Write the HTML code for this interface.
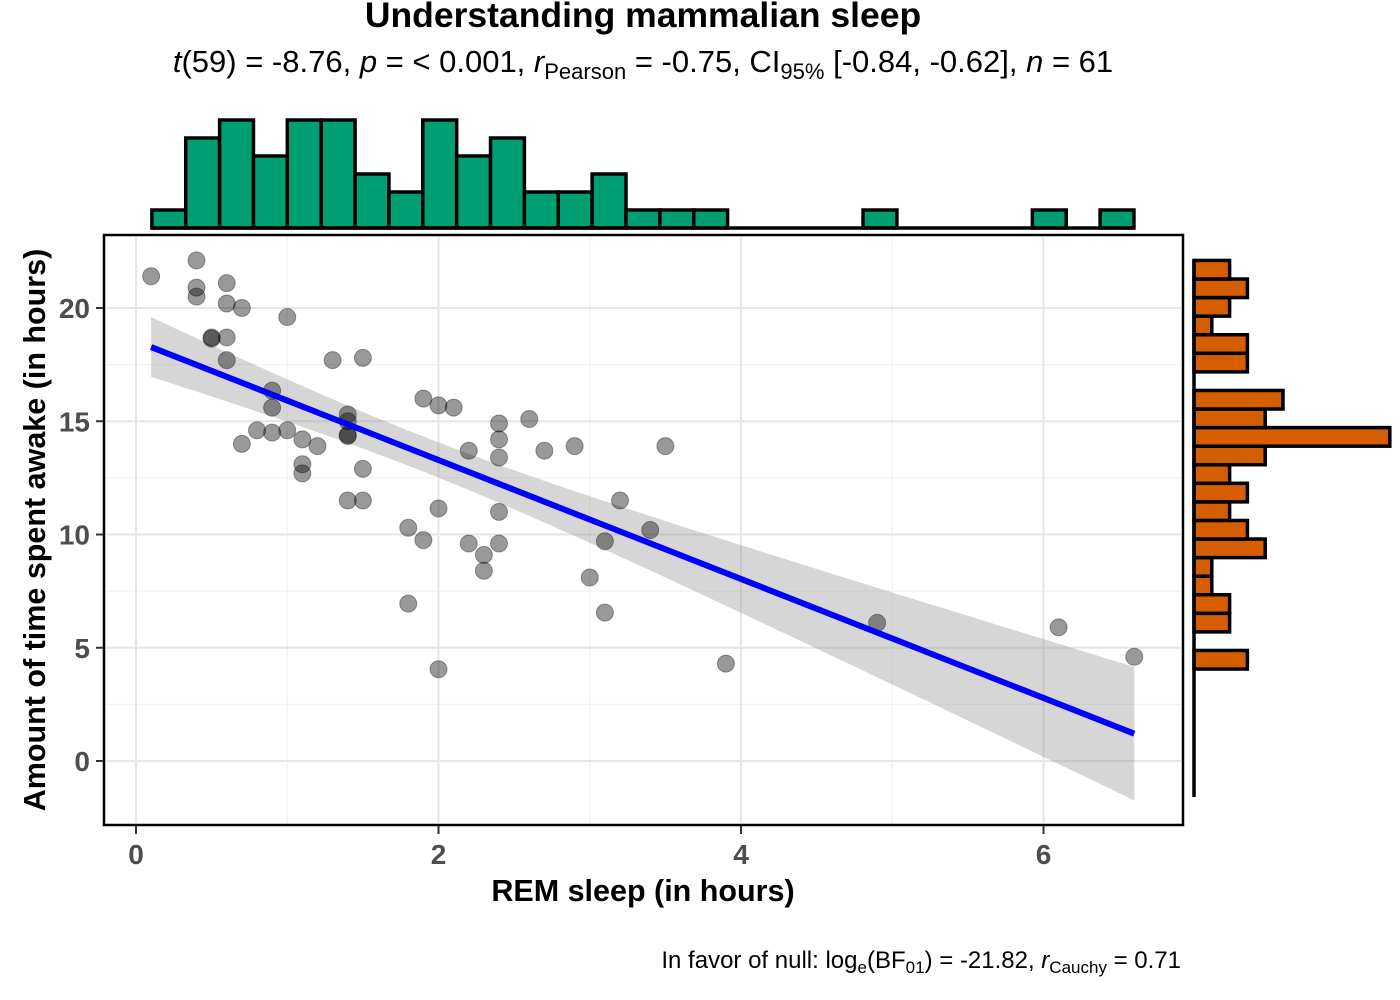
<!DOCTYPE html>
<html><head><meta charset="utf-8"><style>
html,body{margin:0;padding:0;background:#fff;width:1400px;height:1000px;overflow:hidden}
svg{display:block;font-family:"Liberation Sans",Arial,sans-serif}
</style></head><body>
<svg id="chart" width="1400" height="1000" viewBox="0 0 1400 1000">
<text x="643" y="27" text-anchor="middle" font-size="35.5" font-weight="bold" fill="#000">Understanding mammalian sleep</text>
<text x="643" y="72" text-anchor="middle" font-size="31" fill="#000"><tspan font-style="italic">t</tspan>(59) = -8.76, <tspan font-style="italic">p</tspan> = &lt; 0.001, <tspan font-style="italic">r</tspan><tspan font-size="22" dy="7">Pearson</tspan><tspan dy="-7"> = -0.75, CI</tspan><tspan font-size="22" dy="7">95%</tspan><tspan dy="-7"> [-0.84, -0.62], </tspan><tspan font-style="italic">n</tspan> = 61</text>
<g id="grid"></g>
<g id="band"></g>
<g id="pts"></g>
<g id="fit"></g>
<rect x="104" y="235" width="1079" height="590" fill="none" stroke="#000" stroke-width="2.5"/>
<g id="axes"></g>
<g id="tophist"></g>
<g id="righthist"></g>
<text x="643" y="901" text-anchor="middle" font-size="30.5" font-weight="bold" fill="#000">REM sleep (in hours)</text>
<text transform="translate(45,530) rotate(-90)" text-anchor="middle" font-size="30.5" font-weight="bold" fill="#000">Amount of time spent awake (in hours)</text>
<text x="1181" y="968" text-anchor="end" font-size="24" fill="#000">In favor of null: log<tspan font-size="17" dy="5">e</tspan><tspan dy="-5">(BF</tspan><tspan font-size="17" dy="5">01</tspan><tspan dy="-5">) = -21.82, </tspan><tspan font-style="italic">r</tspan><tspan font-size="17" dy="5">Cauchy</tspan><tspan dy="-5"> = 0.71</tspan></text>
</svg>
<script>
const remSleep=[0.1,0.4,0.4,0.4,0.6,0.6,0.7,1.0,0.5,0.5,0.6,0.6,1.3,1.5,0.9,0.9,1.9,2.0,2.1,1.4,1.4,1.4,1.4,0.8,0.9,1.0,1.1,1.2,0.7,2.4,2.4,2.4,2.6,2.2,2.7,2.9,3.5,1.1,1.1,1.5,1.4,1.5,2.0,2.4,3.2,1.8,1.9,2.2,2.4,2.3,2.3,3.1,3.4,3.0,1.8,3.1,2.0,3.9,4.9,6.1,6.6];
const awake=[21.4,22.1,20.9,20.5,21.1,20.2,20.0,19.6,18.7,18.65,18.7,17.7,17.7,17.8,16.35,15.6,16.0,15.7,15.6,15.3,15.0,14.35,14.4,14.6,14.5,14.6,14.2,13.9,14.0,14.9,14.2,13.4,15.1,13.7,13.7,13.9,13.9,13.1,12.7,12.9,11.5,11.5,11.15,11.0,11.5,10.3,9.75,9.6,9.6,9.1,8.4,9.7,10.2,8.1,6.95,6.55,4.05,4.3,6.1,5.9,4.6];
const topCounts=[1,5,6,4,6,6,3,2,6,4,5,2,2,3,1,1,1,0,0,0,0,1,0,0,0,0,1,0,1];
const topBinStart=0.105, topBinWidth=0.2239;
const rightCounts=[3,0,2,2,1,1,4,3,2,3,2,4,11,4,5,0,3,3,1,2,3,2];
const rightBinStart=4.06, rightBinWidth=0.82;
const xTicks=[0,2,4,6], yTicks=[0,5,10,15,20];

const NS="http://www.w3.org/2000/svg";
const X=v=>136+v*151.25, Y=v=>761-v*22.65;
function mk(parent,tag,attrs){const e=document.createElementNS(NS,tag);for(const k in attrs)e.setAttribute(k,attrs[k]);document.getElementById(parent).appendChild(e);return e;}

[1,3,5].forEach(v=>{const l=mk('grid','line',{x1:X(v),x2:X(v),y1:237,y2:823,stroke:'#f2f2f2','stroke-width':1.2});

});
[2.5,7.5,12.5,17.5].forEach(v=>{const l=mk('grid','line',{x1:106,x2:1181,y1:Y(v),y2:Y(v),stroke:'#f2f2f2','stroke-width':1.2});

});
xTicks.forEach(v=>{const l=mk('grid','line',{x1:X(v),x2:X(v),y1:237,y2:823,stroke:'#e6e6e6','stroke-width':2});


const t=mk('axes','line',{x1:X(v),x2:X(v),y1:826,y2:834,stroke:'#333','stroke-width':2});


const tx=mk('axes','text',{x:X(v),y:864,'text-anchor':'middle','font-size':28,'font-weight':'bold',fill:'#4d4d4d'});tx.textContent=v;

});
yTicks.forEach(v=>{const l=mk('grid','line',{x1:106,x2:1181,y1:Y(v),y2:Y(v),stroke:'#e6e6e6','stroke-width':2});


const t=mk('axes','line',{x1:96,x2:103,y1:Y(v),y2:Y(v),stroke:'#333','stroke-width':2});


const tx=mk('axes','text',{x:90,y:Y(v)+10,'text-anchor':'end','font-size':28,'font-weight':'bold',fill:'#4d4d4d'});tx.textContent=v;

});

const n=remSleep.length;
const mx=remSleep.reduce((a,b)=>a+b,0)/n, my=awake.reduce((a,b)=>a+b,0)/n;
let sxx=0,sxy=0;for(let i=0;i<n;i++){sxx+=(remSleep[i]-mx)**2;sxy+=(remSleep[i]-mx)*(awake[i]-my);}
const b=sxy/sxx,a=my-b*mx;
let sse=0;for(let i=0;i<n;i++)sse+=(awake[i]-a-b*remSleep[i])**2;
const s=Math.sqrt(sse/(n-2));
const xmin=Math.min(...remSleep),xmax=Math.max(...remSleep);
const up=[],lo=[];
for(let k=0;k<=80;k++){const x=xmin+(xmax-xmin)*k/80;const yh=a+b*x;const se=s*Math.sqrt(1/n+(x-mx)**2/sxx);
up.push(X(x)+','+Y(yh+2.0*se));lo.unshift(X(x)+','+Y(yh-2.0*se));}
const bp=mk('band','polygon',{points:up.concat(lo).join(' '),fill:'#999','fill-opacity':0.4});



remSleep.forEach((x,i)=>{const c=mk('pts','circle',{cx:X(x),cy:Y(awake[i]),r:8.5,fill:'#000','fill-opacity':0.4,stroke:'#000','stroke-opacity':0.35,'stroke-width':1});

});

const fl=mk('fit','line',{x1:X(xmin),y1:Y(a+b*xmin),x2:X(xmax),y2:Y(a+b*xmax),stroke:'#0000ff','stroke-width':6});



const topBase=228, topScale=18;
topCounts.forEach((c,i)=>{if(!c)return;const x0=X(topBinStart+i*topBinWidth),x1=X(topBinStart+(i+1)*topBinWidth);
const r=mk('tophist','rect',{x:x0,y:topBase-c*topScale,width:x1-x0,height:c*topScale,fill:'#009E73',stroke:'#000','stroke-width':3.5});

});
const tb=mk('tophist','line',{x1:X(topBinStart),x2:X(topBinStart+topCounts.length*topBinWidth),y1:topBase,y2:topBase,stroke:'#000','stroke-width':3.5});



const rBase=1194, rScale=17.8;
rightCounts.forEach((c,i)=>{if(!c)return;const y0=Y(rightBinStart+i*rightBinWidth),y1=Y(rightBinStart+(i+1)*rightBinWidth);
const r=mk('righthist','rect',{x:rBase,y:y1,width:c*rScale,height:y0-y1,fill:'#D55E00',stroke:'#000','stroke-width':3.5});

});
const rb=mk('righthist','line',{x1:rBase,x2:rBase,y1:Y(rightBinStart+rightCounts.length*rightBinWidth),y2:797,stroke:'#000','stroke-width':3.5});


</script>
</body></html>
